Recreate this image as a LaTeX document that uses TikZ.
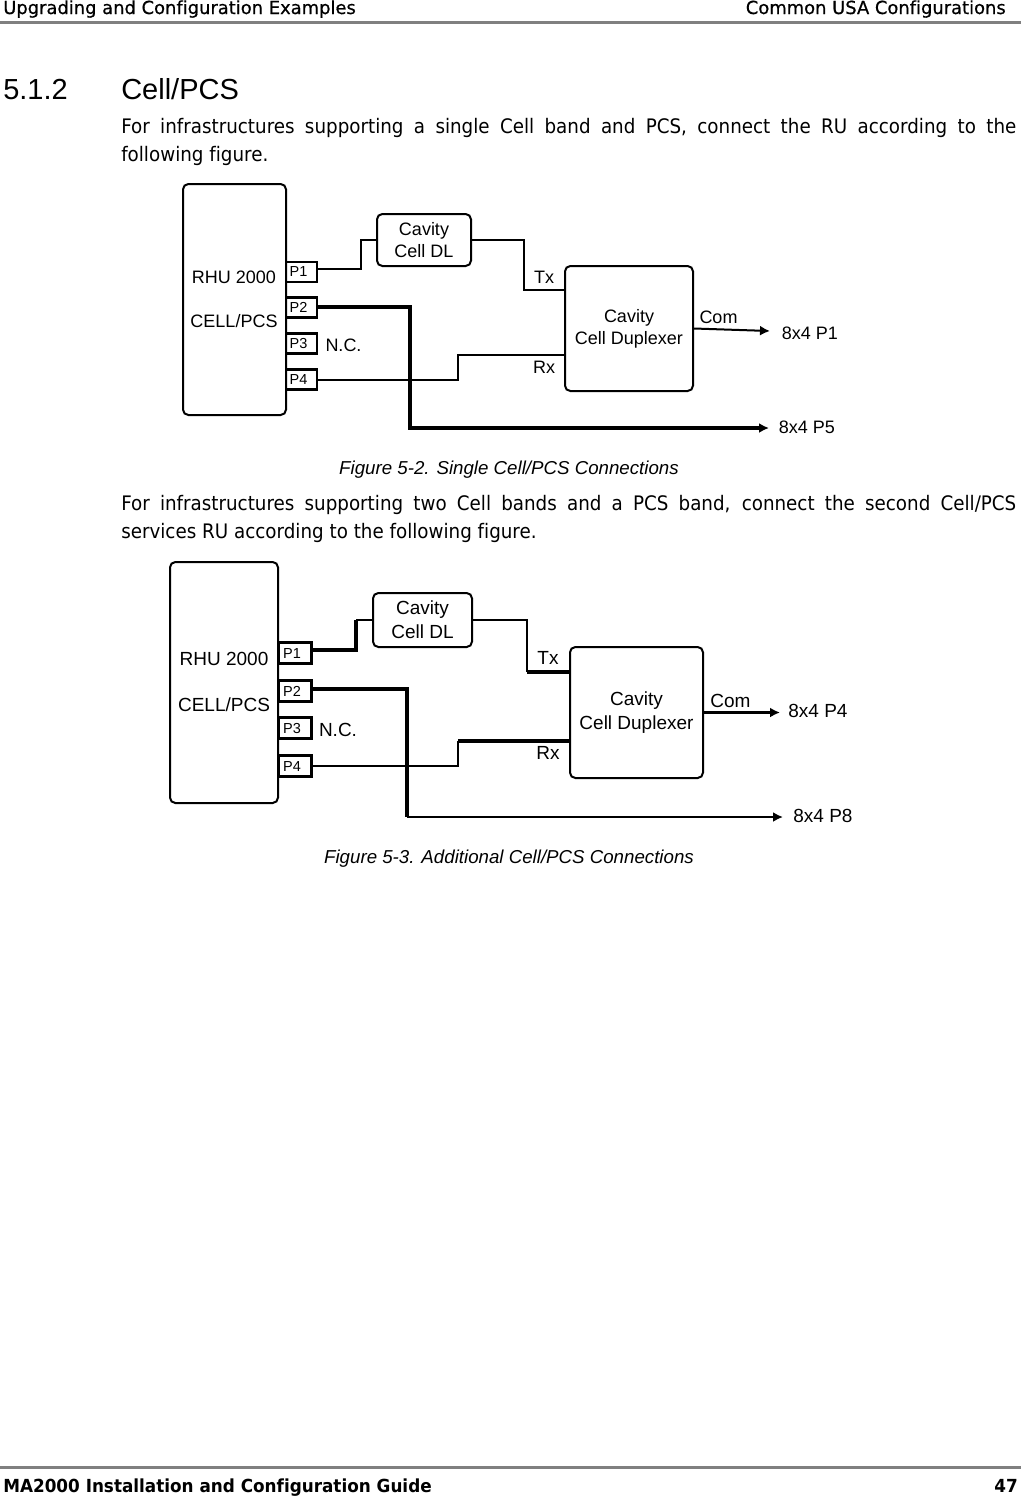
\documentclass[tikz,border=0pt]{standalone}
\usepackage{fontspec}
\usetikzlibrary{arrows.meta}
\setmainfont{Liberation Sans}
\newfontfamily\bodyfont[FakeStretch=0.915,Ligatures=NoCommon]{DejaVu Sans}
\newfontfamily\headfont[FakeStretch=0.995,FakeBold=0.6,Ligatures=NoCommon]{DejaVu Sans}
\newfontfamily\footfont[FakeStretch=0.935,Ligatures=NoCommon]{DejaVu Sans Bold}
\newfontfamily\capfont{Liberation Sans Italic}
\newcommand{\fsz}[1]{\fontsize{\dimexpr #1pt*3/4\relax}{\dimexpr #1pt\relax}\selectfont}
\newcommand{\jline}[1]{\makebox[671.25pt][s]{#1}}
\tikzset{
  x=0.75pt,y=-0.75pt,
  txt/.style={inner sep=0pt,anchor=base west},
  lab/.style={inner sep=0pt,align=center,font=\fsz{18}},
  blk/.style 2 args={draw=black,line width=1.5pt,rounded corners=4pt,inner sep=0pt,align=center,
     font=\fsz{18},minimum width=#1*0.75pt,minimum height=#2*0.75pt},
  port/.style 2 args={draw=black,line width=1.6pt,inner sep=0pt,font=\fsz{14.5},
     minimum width=#1*0.75pt,minimum height=#2*0.75pt},
  wire/.style={line width=1.5pt,line join=miter},
  thickwire/.style={line width=2.3pt,line join=miter},
  tip/.style={-{Latex[length=7.5pt,width=7.5pt]}},
}
\definecolor{rulegrey}{HTML}{808080}
\begin{document}
\begin{tikzpicture}
\useasboundingbox (0,0) rectangle (1021,1497);
% page furniture
\fill[rulegrey] (0,20.5) rectangle (1021,23.5);
\fill[rulegrey] (0,1465.5) rectangle (1021,1468.5);
\node[txt] (hl) at (3,14) {\headfont\fsz{18}Upgrading and Configuration Examples};
\node[txt,anchor=base east] (hr) at (1006,14) {\headfont\fsz{18}Common USA Configurations};
\node[txt] (fl) at (3,1492) {\footfont\fsz{18}MA2000 Installation and Configuration Guide};
\node[txt,anchor=base east] (fr) at (1018,1492) {\footfont\fsz{18}47};
\node[txt] (secnum) at (3,99.5) {\fsz{29}5.1.2};
\node[txt] (sec) at (121,99.5) {\fsz{29}Cell/PCS};
\node[txt] (b1) at (121,133) {\bodyfont\fsz{20}\jline{For infrastructures supporting a single Cell band and PCS, connect the RU according to the}};
\node[txt] (b2) at (121,161) {\bodyfont\fsz{20}following figure.};
\node[txt,anchor=base] (c1) at (509,474) {\capfont\fsz{18.7}Figure 5-2. Single Cell/PCS Connections};
\node[txt] (b3) at (121,510) {\bodyfont\fsz{20}\jline{For infrastructures supporting two Cell bands and a PCS band, connect the second Cell/PCS}};
\node[txt] (b4) at (121,538) {\bodyfont\fsz{20}services RU according to the following figure.};
\node[txt,anchor=base] (c2) at (509,863) {\capfont\fsz{18.7}Figure 5-3. Additional Cell/PCS Connections};

% Figure 5-2
\node[blk={103}{231}] (ru) at (234.5,299.5) {};
\node[lab] (rul1) at (234,277) {RHU 2000};
\node[lab] (rul2) at (234,321) {CELL/PCS};
\node[port={31}{20}] (p1) at (301.5,272) {P1\kern4.5pt};
\node[port={31}{20}] (p2) at (301.5,307.5) {P2\kern4.5pt};
\node[port={31}{20}] (p3) at (301.5,343.5) {P3\kern4.5pt};
\node[port={31}{20}] (p4) at (301.5,379.5) {P4\kern4.5pt};
\node[blk={94}{52}] (dl) at (424,240) {Cavity\\[-1.5pt]Cell DL};
\node[blk={128}{125}] (dup) at (629,328.5) {Cavity\\[-1.5pt]Cell Duplexer};
\node[lab] (nc) at (343.5,345) {N.C.};
\node[lab] (tx) at (544,277) {Tx};
\node[lab] (rx) at (544,367) {Rx};
\node[lab] (com) at (718.5,317) {Com};
\node[lab] (o1) at (810,333) {8x4 P1};
\node[lab] (o2) at (807,427) {8x4 P5};
\coordinate (t1) at (770,331);
\coordinate (t2) at (769,428);
\draw[wire] ([yshift=2.25pt]p1.east) -- (361,269) -- (361,240) -- (dl.west);
\draw[wire] (dl.east) -- (524,240) -- (524,290) -- ([yshift=28.875pt]dup.west);
\draw[wire] ([yshift=-0.375pt]p4.east) -- (458,380) -- (458,355) -- ([yshift=-19.875pt]dup.west);
\draw[thickwire,tip] ([yshift=0.375pt]p2.east) -- (410,307) -- (410,428) -- (t2);
\draw[wire,tip] (dup.east) -- (t1);

% Figure 5-3
\node[blk={108}{241}] (rub) at (224,682.5) {};
\node[lab,font=\fsz{19}] (rubl1) at (224,659) {RHU 2000};
\node[lab,font=\fsz{19}] (rubl2) at (224,705) {CELL/PCS};
\node[port={33}{21}] (q1) at (295,653) {P1\kern4.5pt};
\node[port={33}{21}] (q2) at (295,691) {P2\kern4.5pt};
\node[port={33}{21}] (q3) at (295,728) {P3\kern4.5pt};
\node[port={33}{21}] (q4) at (295,766) {P4\kern4.5pt};
\node[blk={99}{54},font=\fsz{19}] (dlb) at (422.5,620) {Cavity\\[-1pt]Cell DL};
\node[blk={133}{131},font=\fsz{19}] (dupb) at (636.5,712.5) {Cavity\\[-1pt]Cell Duplexer};
\node[lab,font=\fsz{19}] (ncb) at (338,730) {N.C.};
\node[lab,font=\fsz{19}] (txb) at (548,658) {Tx};
\node[lab,font=\fsz{19}] (rxb) at (548,753) {Rx};
\node[lab,font=\fsz{19}] (comb) at (730.5,701) {Com};
\node[lab,font=\fsz{19}] (o3) at (818,711) {8x4 P4};
\node[lab,font=\fsz{19}] (o4) at (823,816) {8x4 P8};
\coordinate (t3) at (780,712.5);
\coordinate (t4) at (783,817);
\draw[thickwire] ([yshift=2.25pt]q1.east) -- (356,650) -- (356,620);
\draw[wire] (356,620) -- (dlb.west);
\draw[wire] (dlb.east) -- (527,620) -- (527,672);
\draw[thickwire] (527,672) -- ([yshift=30.375pt]dupb.west);
\draw[wire] (q4.east) -- (458,766) -- (458,741);
\draw[thickwire] (458,741) -- ([yshift=-21.375pt]dupb.west);
\draw[thickwire] ([yshift=1.5pt]q2.east) -- (407,689) -- (407,817);
\draw[wire,tip] (407,817) -- (t4);
\draw[thickwire,tip] (dupb.east) -- (t3);
\end{tikzpicture}
\end{document}
